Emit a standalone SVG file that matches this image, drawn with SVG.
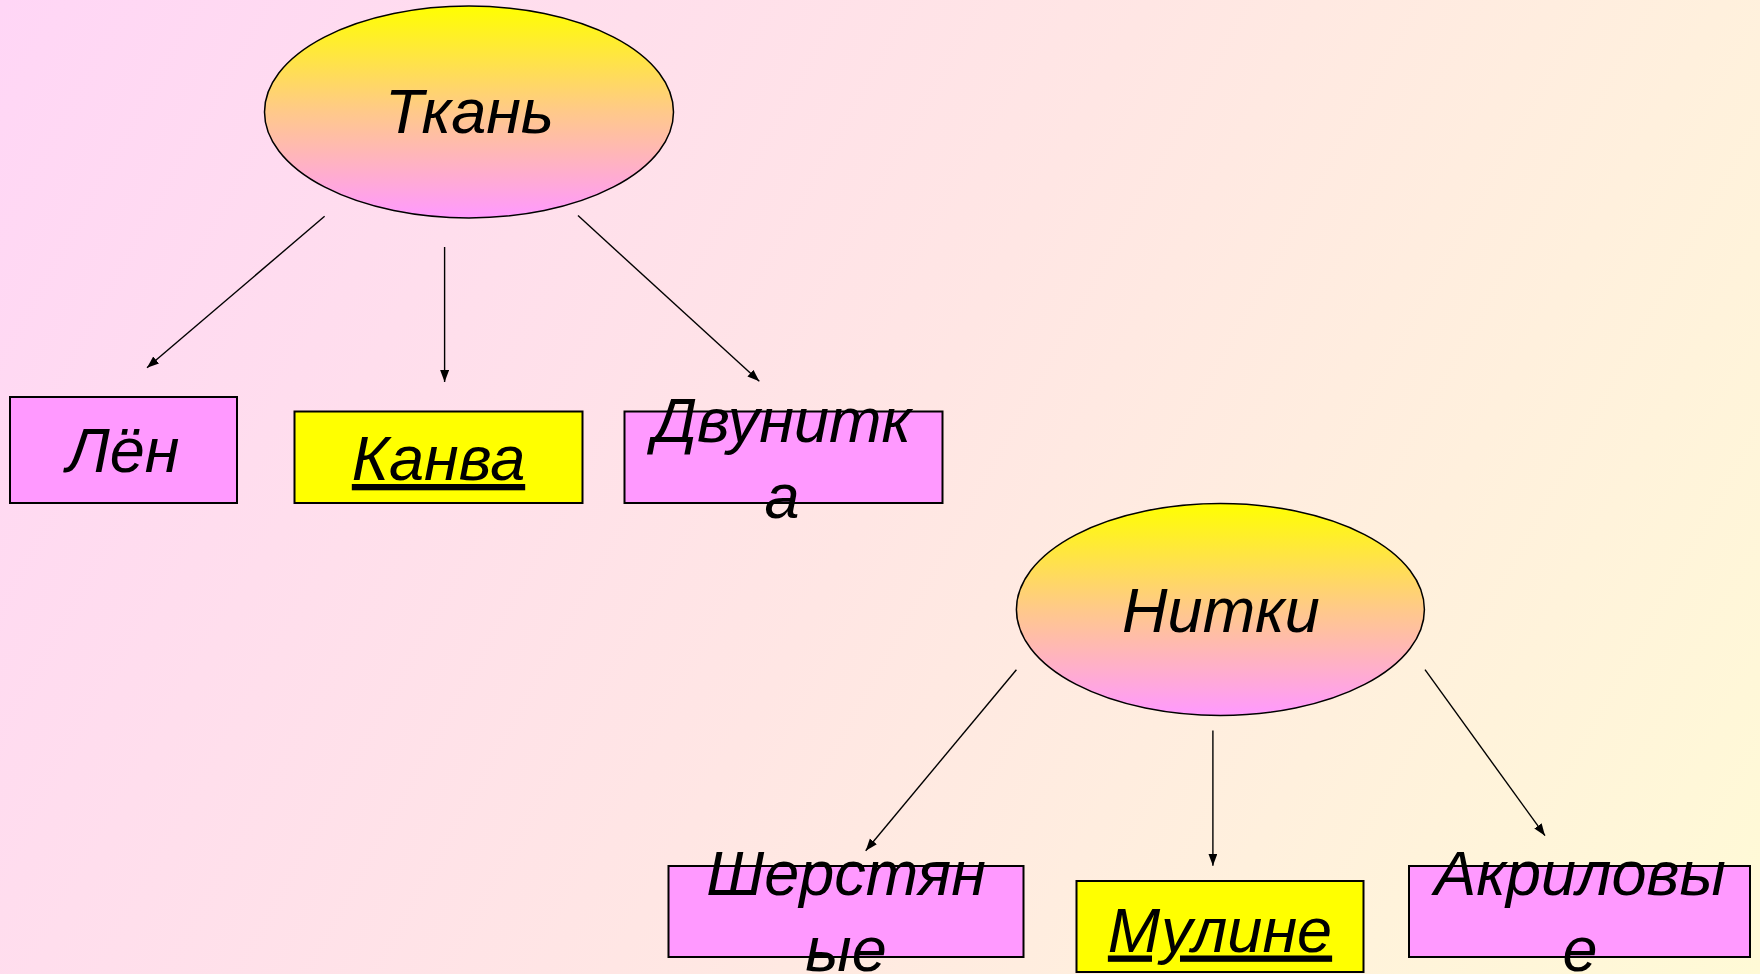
<svg xmlns="http://www.w3.org/2000/svg" width="1760" height="974" viewBox="0 0 1760 974">
  <defs>
    <linearGradient id="bg" gradientUnits="userSpaceOnUse" x1="0" y1="0" x2="1760" y2="974">
      <stop offset="0" stop-color="#FFD6F6"/>
      <stop offset="0.5" stop-color="#FFE6E4"/>
      <stop offset="1" stop-color="#FFFAD6"/>
    </linearGradient>
    <linearGradient id="oval" x1="0" y1="0" x2="0" y2="1">
      <stop offset="0" stop-color="#FFFF00"/>
      <stop offset="0.5" stop-color="#FFC98A"/>
      <stop offset="1" stop-color="#FF99FF"/>
    </linearGradient>
    <marker id="arrow" markerUnits="userSpaceOnUse" markerWidth="14" markerHeight="10" refX="12" refY="4.5" orient="auto">
      <path d="M0,0 L12,4.5 L0,9 Z" fill="#000"/>
    </marker>
    <style>
      .oval { fill: url(#oval); stroke: #000; stroke-width: 1.5; }
      .box { fill: #FF99FF; stroke: #000; stroke-width: 2; }
      .box.hl { fill: #FFFF00; }
      .lbl { font-family: "Liberation Sans", Arial, sans-serif; font-style: italic; font-size: 63px; fill: #000; text-anchor: middle; }
      .ul { text-decoration: underline; }
      .conn line { stroke: #000; stroke-width: 1.4; marker-end: url(#arrow); }
    </style>
  </defs>
  <rect x="0" y="0" width="1760" height="974" fill="url(#bg)"/>

  <g id="connectors" class="conn">
    <line x1="324.6" y1="216.3" x2="147" y2="367.8"/>
    <line x1="444.6" y1="247" x2="444.6" y2="382"/>
    <line x1="578" y1="215.6" x2="759.3" y2="381.3"/>
    <line x1="1016.4" y1="669.7" x2="865.7" y2="850.7"/>
    <line x1="1212.9" y1="730.5" x2="1212.9" y2="865.8"/>
    <line x1="1425" y1="669.7" x2="1545" y2="835.7"/>
  </g>

  <g id="node-tkan">
    <ellipse class="oval" cx="469" cy="112" rx="204.5" ry="106"/>
    <text class="lbl" x="469.5" y="133">Ткань</text>
  </g>
  <g id="node-len">
    <rect class="box" x="10" y="397" width="227" height="106"/>
    <text class="lbl" x="123" y="472">Лён</text>
  </g>
  <g id="node-kanva">
    <rect class="box hl" x="294.5" y="411.5" width="288" height="91.5"/>
    <text class="lbl ul" x="438.5" y="480">Канва</text>
  </g>
  <g id="node-dvunitka">
    <rect class="box" x="624.5" y="411.5" width="318" height="91.5"/>
    <text class="lbl" x="782" y="442">Двунитк</text>
    <text class="lbl" x="782" y="518">а</text>
  </g>

  <g id="node-nitki">
    <ellipse class="oval" cx="1220.4" cy="609.5" rx="204" ry="106"/>
    <text class="lbl" x="1221" y="632">Нитки</text>
  </g>
  <g id="node-sherstyanye">
    <rect class="box" x="668.5" y="866" width="355" height="91"/>
    <text class="lbl" x="846" y="895">Шерстян</text>
    <text class="lbl" x="846" y="971">ые</text>
  </g>
  <g id="node-muline">
    <rect class="box hl" x="1076.5" y="881" width="287" height="91"/>
    <text class="lbl ul" x="1220" y="951.5">Мулине</text>
  </g>
  <g id="node-akrilovye">
    <rect class="box" x="1409" y="866" width="341" height="91"/>
    <text class="lbl" x="1580" y="895">Акриловы</text>
    <text class="lbl" x="1580" y="971">е</text>
  </g>
</svg>
